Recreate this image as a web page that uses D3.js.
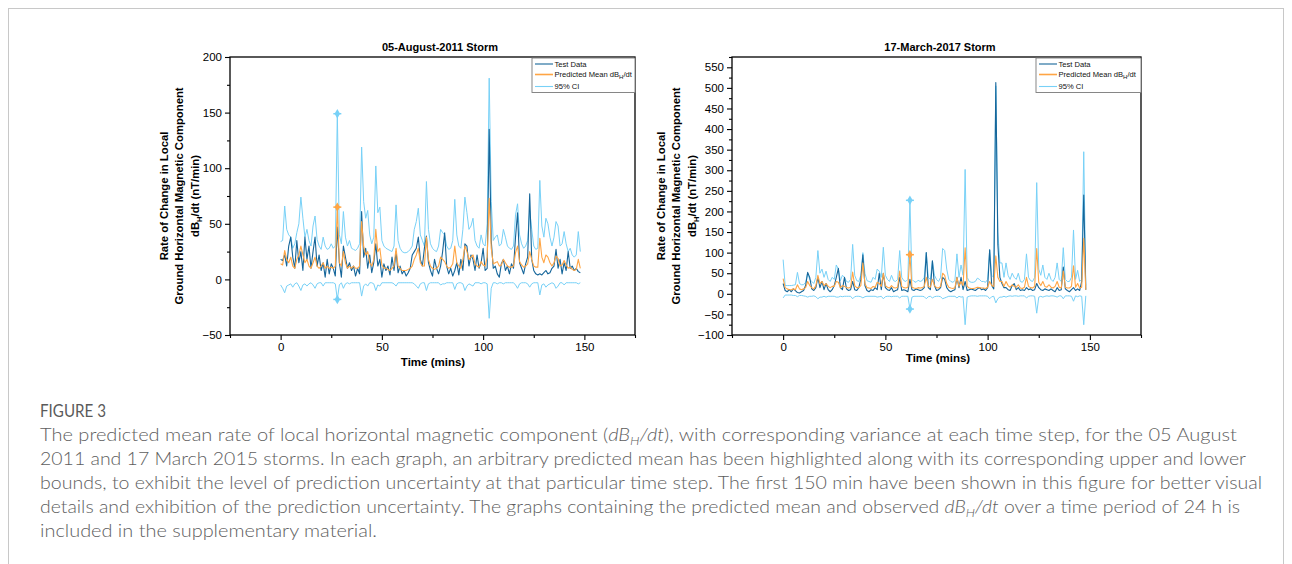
<!DOCTYPE html>
<html><head><meta charset="utf-8">
<script src="https://cdn.jsdelivr.net/npm/d3@7"></script>
<style>body{margin:0;background:#fff} svg{display:block}</style>
</head><body><svg id="c" width="1292" height="564"></svg>
<script>
// ---------- DATA ----------
const minutes = d3.range(0, 149);
const seriesNames = ["Test Data", "Predicted Mean dBH/dt", "95% CI"];
const xTicksMajor = [0, 50, 100, 150];
const xTicksMinor = [-25, 25, 75, 125, 175];

// 05-August-2011 storm
const test1 = [18,17,22,12,30,38,20,10,35,15, 25,8,38,18,30,10,25,38,12,22, 8,15,2,18,5,14,10,3,47,15, 2,30,20,10,15,8,12,3,10,5, 61,20,28,10,22,6,15,32,12,18, 2,14,8,12,4,20,8,25,6,12, 5,8,3,6,10,22,25,28,38,18, 12,28,39,15,8,3,18,10,5,12, 25,42,12,5,10,3,8,15,4,18, 8,32,30,12,22,18,8,22,10,15, 28,8,10,135,35,10,12,5,2,14, 18,8,12,5,14,10,38,60,15,10, 5,14,20,77,18,8,5,4,5,4, 6,8,5,6,10,12,27,10,18,5, 15,8,25,10,12,8,10,7,6];
const mean1 = [14,13,26,18,15,20,12,10,18,22, 30,22,15,18,12,10,15,20,12,10, 12,15,10,12,10,11,10,12,65,15, 12,25,15,10,12,10,12,10,10,12, 52,30,22,25,15,12,18,45,25,28, 13,10,10,9,8,10,12,28,12,10, 8,8,8,9,10,12,18,22,28,15, 12,12,38,18,12,10,9,10,12,20, 18,16,12,10,11,14,30,15,12,10, 18,30,25,18,20,22,14,12,11,16, 13,12,20,73,28,14,15,16,12,13, 18,15,12,11,11,12,24,30,16,13, 11,12,14,25,18,12,11,11,37,20, 15,22,20,15,12,15,21,19,12,13, 17,13,10,11,9,8,9,18,10];
const ciHi1 = [34,35,66,45,40,38,28,32,42,50, 74,55,38,45,35,30,48,57,36,30, 27,38,30,27,28,32,28,30,149,40, 32,61,38,30,35,28,27,26,28,32, 119,70,55,62,40,32,38,102,60,65, 35,30,28,27,26,25,30,67,35,28, 25,24,24,25,27,30,45,52,64,40, 35,30,88,45,32,28,26,25,30,45, 42,40,30,27,28,35,72,40,30,28, 45,74,60,45,48,55,35,30,28,40, 32,30,50,181,70,35,38,40,30,32, 45,38,30,28,27,30,58,68,40,32, 28,30,35,62,45,30,27,28,89,48, 38,55,50,38,30,38,52,48,30,32, 43,32,25,28,22,20,22,43,25];
const ciLo1 = [-5,-8,-12,-6,-5,-4,-7,-4,-3,-6, -10,-5,-4,-6,-4,-3,-5,-8,-4,-3, -3,-6,-3,-3,-3,-3,-3,-4,-18,-5, -3,-8,-4,-3,-4,-3,-3,-3,-3,-3, -15,-6,-4,-6,-3,-3,-4,-10,-5,-6, -3,-3,-3,-3,-3,-3,-4,-6,-3,-3, -3,-3,-3,-3,-3,-3,-4,-6,-8,-4, -3,-3,-10,-4,-3,-3,-3,-3,-3,-5, -4,-4,-3,-3,-3,-3,-9,-4,-3,-3, -4,-10,-6,-4,-5,-6,-3,-3,-3,-4, -3,-3,-4,-35,-8,-3,-3,-4,-3,-3, -4,-3,-3,-3,-3,-3,-5,-8,-4,-3, -3,-3,-4,-7,-4,-3,-3,-3,-14,-5, -4,-7,-5,-4,-3,-4,-8,-6,-3,-3, -5,-3,-3,-3,-3,-3,-3,-4,-3];
const highlight1 = 28;
const yTicks1 = [-50, 0, 50, 100, 150, 200];

// 17-March-2017 storm
const test2 = [25,8,5,10,5,12,8,3,2,5, 8,20,52,40,12,8,15,40,15,30, 10,25,10,5,10,20,40,62,15,10, 40,12,8,10,30,10,8,15,35,95, 20,8,5,10,8,15,10,50,10,50, 15,10,8,15,5,8,10,40,8,10, 8,5,35,10,8,12,10,8,10,15, 100,15,10,80,20,8,10,15,40,35, 15,8,5,8,10,40,15,40,10,30, 8,10,12,10,8,12,15,10,12,8, 15,107,20,12,513,120,40,25,15,15, 10,8,20,25,10,15,8,10,8,15, 10,12,8,10,25,15,10,8,12,10, 8,12,8,5,15,8,10,65,12,8, 5,10,15,8,12,8,30,240,10];
const mean2 = [37,15,12,10,10,12,10,22,12,10, 12,15,30,20,15,12,20,45,25,30, 20,25,18,15,18,18,30,28,15,20, 18,15,14,16,53,20,15,15,20,75, 25,15,14,13,18,16,28,25,18,50, 20,16,14,20,15,14,16,55,18,15, 14,16,95,16,14,13,15,14,15,18, 40,18,16,35,20,15,14,18,50,45, 25,16,14,13,15,40,18,30,20,112, 18,14,13,13,14,16,15,14,14,13, 16,30,20,18,92,40,30,30,18,30, 20,16,22,18,16,22,14,13,16,40, 18,15,14,18,110,28,20,30,18,16, 22,16,14,18,30,16,14,55,16,14, 14,18,68,16,25,14,16,135,10];
const ciHi2 = [83,20,20,20,20,21,22,52,25,22, 22,28,50,35,30,25,40,105,50,60, 40,55,35,30,40,35,70,60,32,45, 40,30,28,35,120,45,32,30,45,100, 50,32,30,28,40,35,60,55,40,113, 45,35,30,45,32,30,35,105,40,32, 30,35,227,35,30,28,33,30,32,40, 100,40,35,80,45,35,30,40,110,105, 60,35,30,28,32,97,40,70,45,302, 40,30,28,28,30,38,35,30,30,28, 35,107,45,40,505,150,75,75,40,75, 45,35,50,40,35,50,30,28,35,97, 40,32,30,40,270,60,45,70,40,35, 50,35,30,40,75,35,30,112,35,30, 30,40,155,35,57,30,35,345,20];
const ciLo2 = [-10,-3,-3,-3,-3,-4,-4,-7,-4,-4, -5,-6,-8,-6,-6,-5,-7,-12,-8,-8, -6,-8,-6,-6,-6,-6,-8,-8,-6,-7, -6,-6,-6,-6,-12,-7,-6,-6,-7,-10, -7,-6,-6,-6,-6,-6,-8,-7,-6,-12, -7,-6,-6,-7,-6,-6,-6,-10,-6,-6, -6,-6,-37,-8,-6,-6,-6,-6,-6,-7, -12,-7,-6,-10,-7,-6,-6,-7,-12,-10, -8,-6,-6,-6,-6,-10,-6,-8,-7,-75, -8,-6,-5,-5,-5,-6,-5,-5,-5,-5, -6,-12,-7,-6,-22,-12,-8,-8,-6,-8, -6,-5,-6,-5,-5,-6,-5,-5,-5,-10, -6,-5,-5,-6,-47,-8,-6,-8,-6,-5, -6,-5,-5,-6,-8,-5,-5,-12,-5,-5, -5,-6,-18,-5,-7,-5,-6,-75,-5];
const highlight2 = 62;
const yTicks2 = [-100,-50,0,50,100,150,200,250,300,350,400,450,500,550];

// ---------- STYLE ----------
const C_TEST = "#16669a", C_MEAN = "#ffa544", C_CI = "#78d1f7";
const FONT = "'Liberation Sans', Arial, sans-serif";

const svg = d3.select("#c");
svg.append("rect").attr("x", 8.5).attr("y", 8.5).attr("width", 1275).attr("height", 620)
  .attr("fill", "none").attr("stroke", "#c8c8c8").attr("stroke-width", 1);

function panel(cfg) {
  const x = d3.scaleLinear().domain([-25, 175]).range([cfg.x0, cfg.x1]);
  const y = d3.scaleLinear().domain(cfg.yDom).range([cfg.y1, cfg.y0]);
  const g = svg.append("g");
  const clipId = "clip" + cfg.id;
  g.append("clipPath").attr("id", clipId).append("rect")
    .attr("x", cfg.x0).attr("y", cfg.y0).attr("width", cfg.x1 - cfg.x0).attr("height", cfg.y1 - cfg.y0);

  // axes
  const ax = g.append("g").attr("transform", `translate(0,${cfg.y1})`)
    .call(d3.axisBottom(x).tickValues(xTicksMajor).tickSize(5).tickPadding(3).tickSizeOuter(0));
  const axm = g.append("g").attr("transform", `translate(0,${cfg.y1})`)
    .call(d3.axisBottom(x).tickValues(xTicksMinor).tickSize(3).tickFormat("").tickSizeOuter(0));
  const ay = g.append("g").attr("transform", `translate(${cfg.x0},0)`)
    .call(d3.axisLeft(y).tickValues(cfg.yTicks).tickSize(5).tickPadding(3).tickSizeOuter(0));
  const minorY = cfg.yTicks.slice(0, -1).map(v => v + 25);
  if (cfg.yDom[1] - cfg.yTicks[cfg.yTicks.length - 1] >= 25) minorY.push(cfg.yTicks[cfg.yTicks.length - 1] + 25);
  const aym = g.append("g").attr("transform", `translate(${cfg.x0},0)`)
    .call(d3.axisLeft(y).tickValues(minorY).tickSize(3).tickFormat("").tickSizeOuter(0));
  [ax, axm, ay, aym].forEach(a => {
    a.select(".domain").remove();
    a.selectAll("line").attr("stroke", "#000").attr("stroke-width", 1.1);
    a.selectAll("text").attr("font-family", FONT).attr("font-size", 11.5).attr("fill", "#000");
  });

  // series
  const line = d3.line().x((d, i) => x(minutes[i])).y(d => y(d));
  const lg = g.append("g").attr("clip-path", `url(#${clipId})`);
  [[cfg.hi, C_CI, 1], [cfg.lo, C_CI, 1], [cfg.test, C_TEST, 1.1], [cfg.mean, C_MEAN, 1.1]].forEach(([arr, col, w]) => {
    lg.append("path").datum(arr).attr("d", line).attr("fill", "none")
      .attr("stroke", col).attr("stroke-width", w).attr("stroke-linejoin", "round");
  });

  // highlighted point with bounds
  const h = cfg.hl;
  const hx = x(minutes[h]);
  [[cfg.hi[h], C_CI], [cfg.lo[h], C_CI], [cfg.mean[h], C_MEAN]].forEach(([v, col]) => {
    lg.append("line").attr("x1", hx - 4).attr("x2", hx + 4).attr("y1", y(v)).attr("y2", y(v))
      .attr("stroke", col).attr("stroke-width", 1.5);
    lg.append("path").attr("d", d3.symbol(d3.symbolDiamond, 26)())
      .attr("transform", `translate(${hx},${y(v)})`).attr("fill", col);
  });

  // frame
  g.append("rect").attr("x", cfg.x0).attr("y", cfg.y0).attr("width", cfg.x1 - cfg.x0).attr("height", cfg.y1 - cfg.y0)
    .attr("fill", "none").attr("stroke", "#000").attr("stroke-width", 1.3);

  // title
  g.append("text").attr("x", cfg.titleX).attr("y", 51).attr("text-anchor", "middle")
    .attr("font-family", FONT).attr("font-weight", "bold").attr("font-size", 11).text(cfg.title);
  // x label
  g.append("text").attr("x", cfg.xlabX).attr("y", cfg.xlabY).attr("text-anchor", "middle")
    .attr("font-family", FONT).attr("font-weight", "bold").attr("font-size", 11.5).text("Time (mins)");
  // y label (3 lines)
  const cy = (cfg.y0 + cfg.y1) / 2;
  const ylab = [["Rate of Change in Local"], ["Ground Horizontal Magnetic Component"], null];
  cfg.ylabX.forEach((lx, i) => {
    const t = g.append("text").attr("transform", `translate(${lx},${cy}) rotate(-90)`)
      .attr("text-anchor", "middle").attr("dy", "0.36em")
      .attr("font-family", FONT).attr("font-weight", "bold").attr("font-size", 11.3);
    if (i < 2) t.text(ylab[i][0]);
    else {
      t.append("tspan").text("dB");
      t.append("tspan").attr("font-size", 7.5).attr("dy", 3).text("H");
      t.append("tspan").attr("dy", -3).text("/dt (nT/min)");
    }
  });

  // legend
  const L = cfg.leg;
  g.append("rect").attr("x", L.x).attr("y", L.y).attr("width", cfg.x1 - L.x).attr("height", 34.5)
    .attr("fill", "#fff").attr("stroke", "#7a7a7a").attr("stroke-width", 0.9);
  const items = [[C_TEST, 6], [C_MEAN, 16.5], [C_CI, 28.5]];
  items.forEach(([col, dy], i) => {
    g.append("line").attr("x1", L.x + 3).attr("x2", L.x + 21).attr("y1", L.y + dy).attr("y2", L.y + dy)
      .attr("stroke", col).attr("stroke-width", i === 1 ? 1.6 : 1.1);
    const t = g.append("text").attr("x", L.x + 22.5).attr("y", L.y + dy + 2.6)
      .attr("font-family", FONT).attr("font-size", 7.6).attr("fill", "#111");
    if (i === 1) {
      t.append("tspan").text("Predicted Mean dB");
      t.append("tspan").attr("font-size", 6).attr("dy", 1.8).text("H");
      t.append("tspan").attr("dy", -1.8).text("/dt");
    } else t.text(seriesNames[i]);
  });
}

panel({ id: 1, x0: 230, x1: 635, y0: 57, y1: 335, yDom: [-50, 200], yTicks: yTicks1,
  test: test1, mean: mean1, hi: ciHi1, lo: ciLo1, hl: highlight1,
  title: "05-August-2011 Storm", titleX: 440, xlabX: 433, xlabY: 366,
  ylabX: [163.5, 179, 195], leg: { x: 532, y: 58 } });
panel({ id: 2, x0: 732, x1: 1141, y0: 57, y1: 335, yDom: [-100, 575], yTicks: yTicks2,
  test: test2, mean: mean2, hi: ciHi2, lo: ciLo2, hl: highlight2,
  title: "17-March-2017 Storm", titleX: 940, xlabX: 938, xlabY: 362,
  ylabX: [660.5, 676, 691.5], leg: { x: 1036, y: 58 } });

// ---------- CAPTION ----------
const CF = "Lato, 'Open Sans', sans-serif";
svg.append("text").attr("x", 40).attr("y", 416.5).attr("font-family", CF).attr("font-size", 17)
  .attr("fill", "#5a5a5a").attr("textLength", 66).attr("lengthAdjust", "spacingAndGlyphs").text("FIGURE 3");

function capLine(y, parts, len) {
  const t = svg.append("text").attr("x", 40).attr("y", y).attr("font-family", CF).attr("font-size", 17)
    .attr("font-weight", 300).attr("fill", "#5e5e5e");
  if (len) t.attr("textLength", len).attr("lengthAdjust", "spacingAndGlyphs");
  parts.forEach(p => {
    if (typeof p === "string") t.append("tspan").text(p);
    else {
      t.append("tspan").attr("font-style", "italic").text("dB");
      t.append("tspan").attr("font-style", "italic").attr("font-size", 11.5).attr("dy", 4).text("H");
      t.append("tspan").attr("font-style", "italic").attr("dy", -4).text("/dt");
    }
  });
}
capLine(441, ["The predicted mean rate of local horizontal magnetic component (", 1, "), with corresponding variance at each time step, for the 05 August"], 1197);
capLine(465, ["2011 and 17 March 2015 storms. In each graph, an arbitrary predicted mean has been highlighted along with its corresponding upper and lower"], 1206);
capLine(489, ["bounds, to exhibit the level of prediction uncertainty at that particular time step. The first 150 min have been shown in this figure for better visual"], 1222);
capLine(513, ["details and exhibition of the prediction uncertainty. The graphs containing the predicted mean and observed ", 1, " over a time period of 24 h is"], 1200);
capLine(537, ["included in the supplementary material."], 337);
</script></body></html>
